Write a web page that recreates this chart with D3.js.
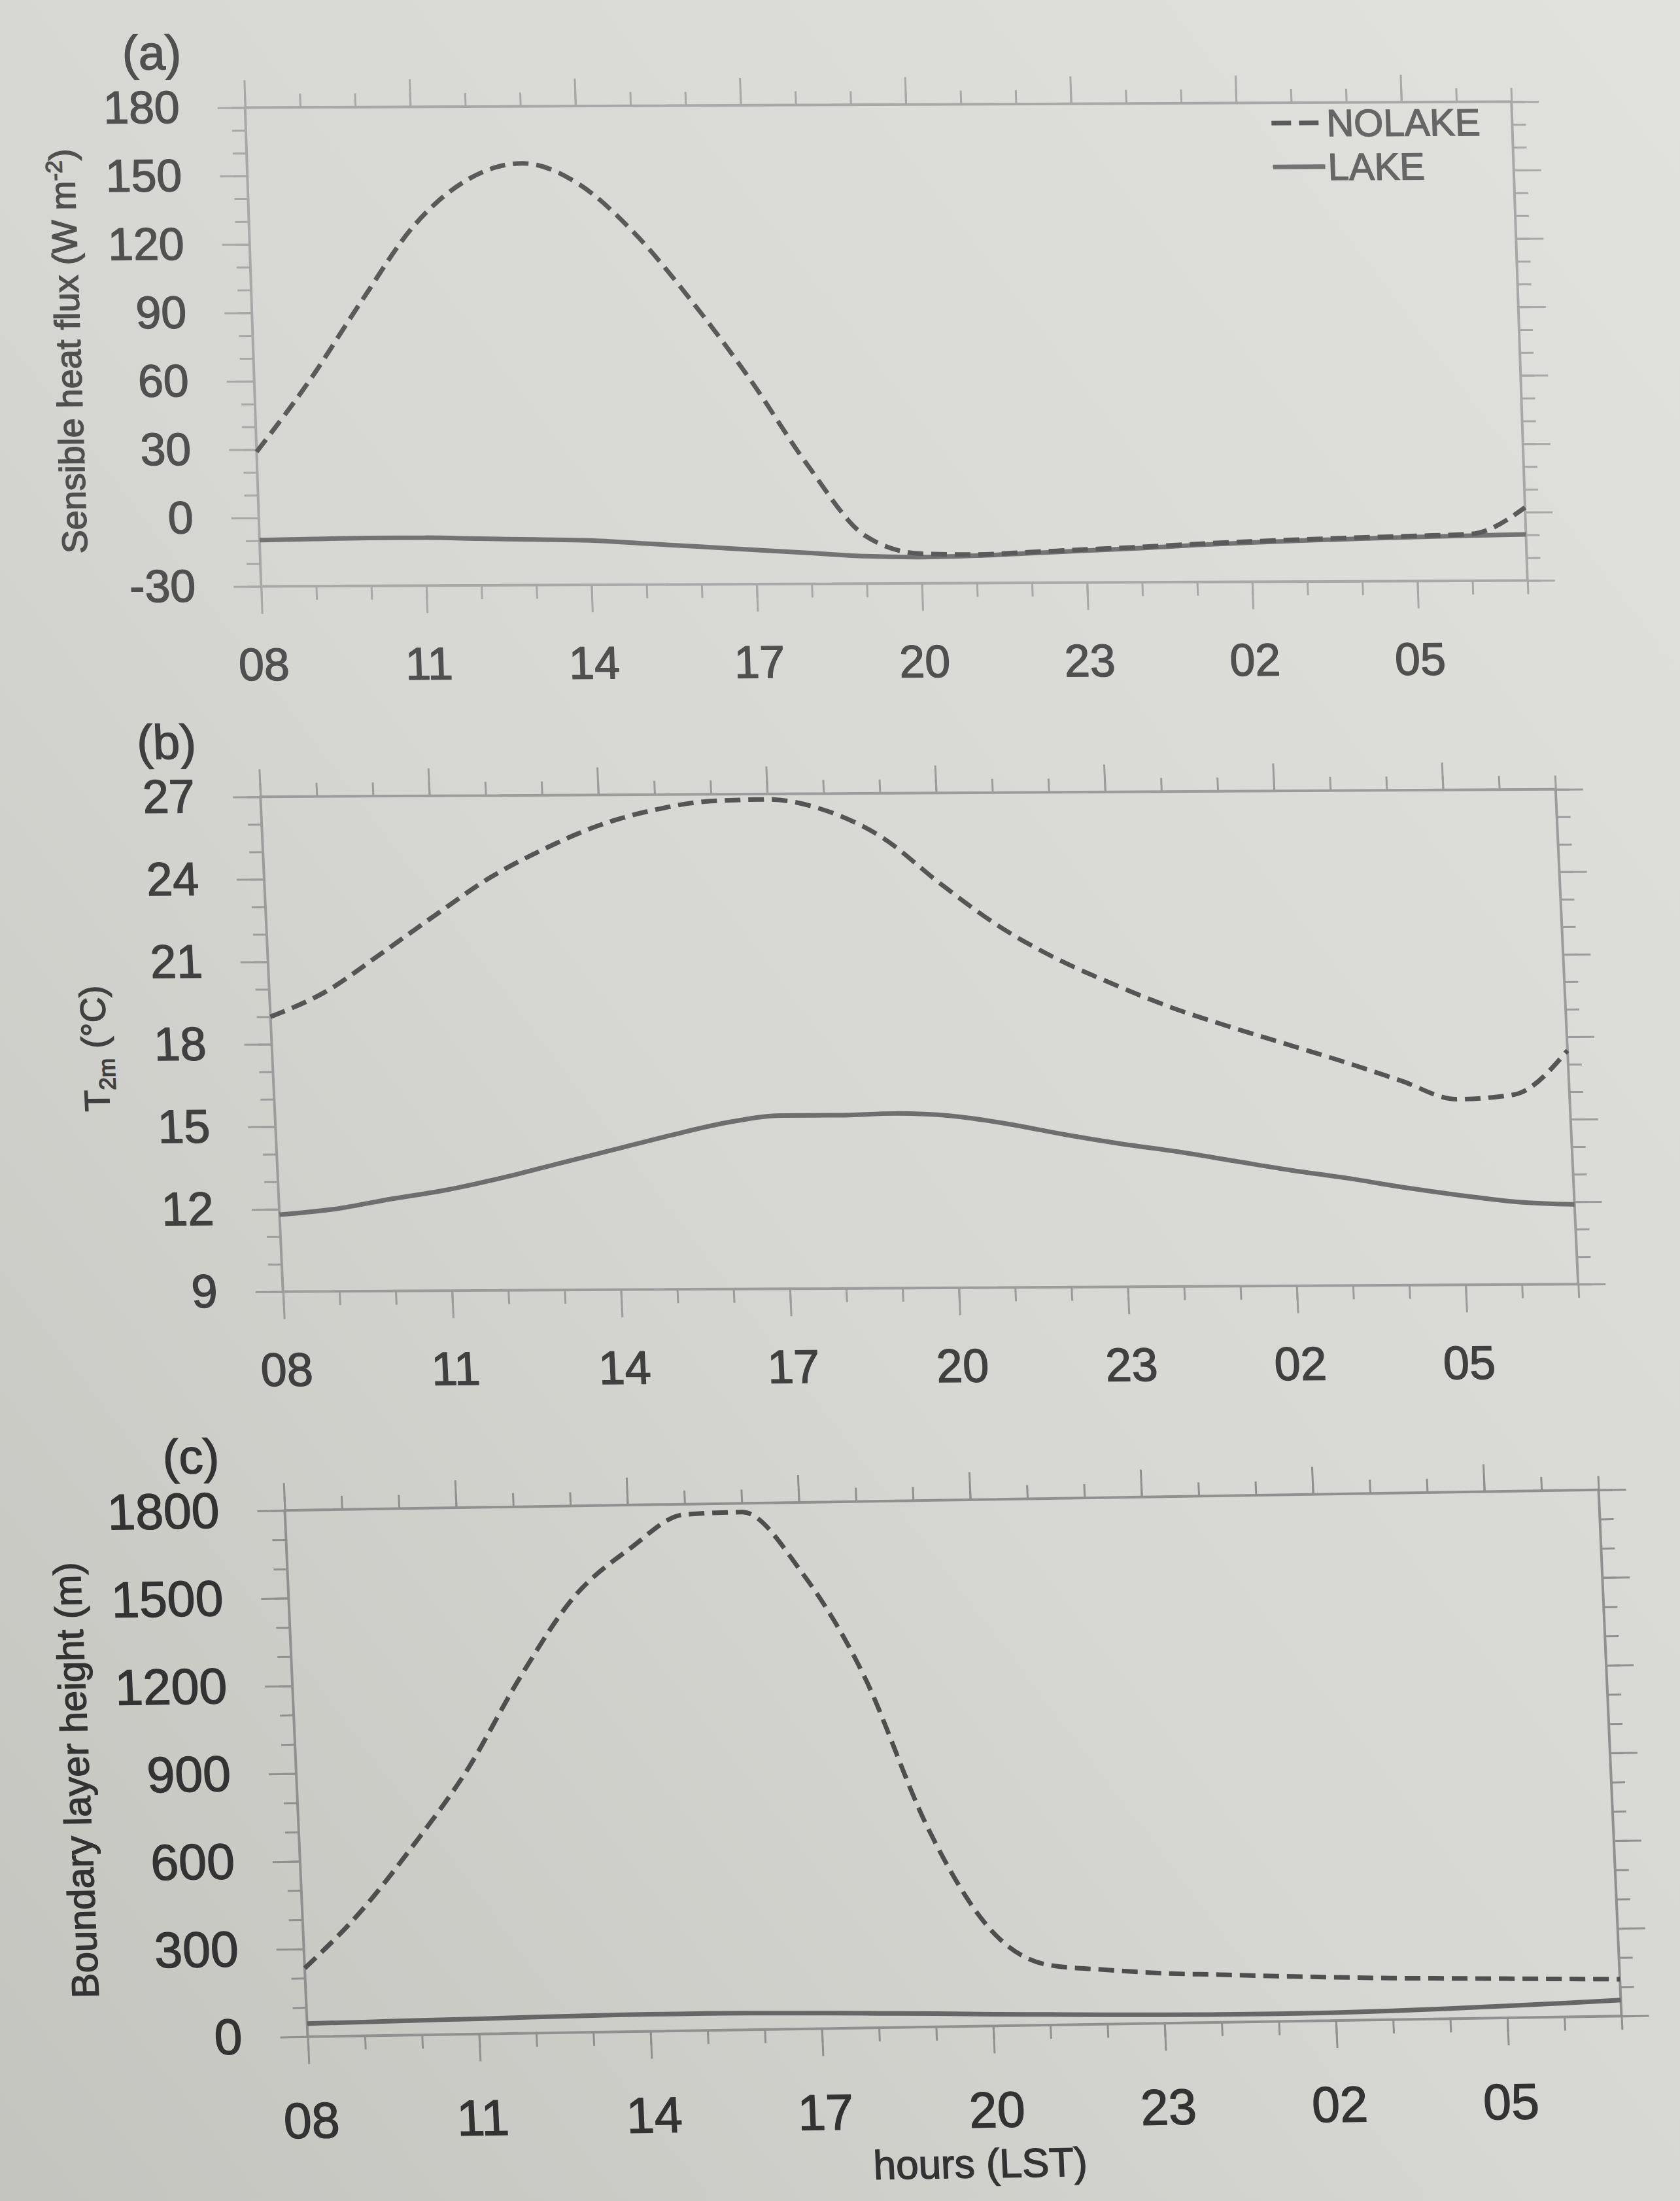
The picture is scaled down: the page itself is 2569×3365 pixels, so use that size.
<!DOCTYPE html>
<html>
<head>
<meta charset="utf-8">
<script src="https://cdn.jsdelivr.net/npm/d3@7"></script>
<style>
  html, body { margin: 0; padding: 0; background: #d6d6d2; }
  svg { display: block; }
  text { font-family: "Liberation Sans", Arial, sans-serif; }
</style>
</head>
<body>
<div id="chart"></div>
<script>
// local standard time, 08 LST through 07 LST next morning
const hours = ["08","09","10","11","12","13","14","15","16","17","18","19",
               "20","21","22","23","00","01","02","03","04","05","06","07"];
const hourLabels = ["08","11","14","17","20","23","02","05"];

// (a) sensible heat flux, W m-2
const fluxNolake = [29, 60, 95, 128, 148, 155, 146, 124, 94, 60, 22, -9,
                    -17, -17.5, -16.5, -15.5, -14.5, -13.3, -12.3, -11.5, -10.8, -10.2, -9.5, 2];
const fluxLake   = [-9.7, -9.3, -9, -9, -9.5, -10, -10.5, -12, -13.5, -15, -16.5, -18,
                    -18.5, -18, -17, -16, -15, -13.8, -12.8, -12, -11.3, -10.7, -10.2, -9.8];
const fluxTicks  = [-30, 0, 30, 60, 90, 120, 150, 180];

// (b) 2 m air temperature, degC
const t2mNolake = [19.0, 19.9, 21.25, 22.65, 24.0, 25.05, 25.9, 26.45, 26.75, 26.8, 26.4, 25.4,
                   23.7, 22.15, 20.95, 20.0, 19.15, 18.45, 17.8, 17.15, 16.45, 15.75, 15.9, 17.5];
const t2mLake   = [11.8, 12.0, 12.35, 12.67, 13.1, 13.6, 14.1, 14.6, 15.05, 15.3, 15.3, 15.35,
                   15.25, 14.95, 14.55, 14.2, 13.9, 13.55, 13.2, 12.9, 12.55, 12.25, 12.0, 11.9];
const t2mTicks  = [9, 12, 15, 18, 21, 24, 27];

// (c) boundary layer height, m
const pblNolake = [234, 420, 650, 905, 1220, 1490, 1650, 1765, 1770, 1560, 1207, 684,
                   336, 206, 186, 171, 163, 155, 148, 142, 138, 134, 130, 126];
const pblLake   = [45, 47, 50, 52, 55, 57, 58, 58, 56, 53, 49, 45,
                   40, 36, 32, 29, 27, 26, 27, 30, 35, 41, 47, 55];
const pblTicks  = [0, 300, 600, 900, 1200, 1500, 1800];

const pageW = 2569, pageH = 3365;

// the page was photographed a little askew, so each panel frame is a quad on the page
const panels = [
  { tag: "(a)", quad: {tl: [381, 163], tr: [2305, 157], bl: [393, 898], br: [2342, 886]},
    nolake: fluxNolake, lake: fluxLake, ticks: fluxTicks, minorStep: 10,
    fontSize: 70, xLabelDy: 119, titleX: -283, titleSize: 54,
    ink: "#505050", frame: "#a8a8a8", dashColor: "#5a5a5a", solidColor: "#737373", legend: true },
  { tag: "(b)", quad: {tl: [404, 1217], tr: [2373, 1208], bl: [427, 1976], br: [2419, 1962]},
    nolake: t2mNolake, lake: t2mLake, ticks: t2mTicks, minorStep: 1,
    fontSize: 72, xLabelDy: 119, titleX: -271, titleSize: 54,
    ink: "#404040", frame: "#9c9c9c", dashColor: "#555", solidColor: "#6e6e6e" },
  { tag: "(c)", quad: {tl: [440, 2305], tr: [2440, 2282], bl: [466, 3118], br: [2484, 3078]},
    nolake: pblNolake, lake: pblLake, ticks: pblTicks, minorStep: 100,
    fontSize: 77, xLabelDy: 128, titleX: -337, titleSize: 58,
    ink: "#333", frame: "#909090", dashColor: "#4e4e4e", solidColor: "#666", xTitle: true }
];

const svg = d3.select("#chart")
  .append("svg")
  .attr("width", pageW)
  .attr("height", pageH);

// paper tone, lighter top right, darker bottom left
const grad = svg.append("defs").append("linearGradient")
  .attr("id", "paper").attr("x1", "100%").attr("y1", "0%").attr("x2", "0%").attr("y2", "100%");
grad.append("stop").attr("offset", "0%").attr("stop-color", "#e1e1de");
grad.append("stop").attr("offset", "55%").attr("stop-color", "#d6d6d2");
grad.append("stop").attr("offset", "100%").attr("stop-color", "#c4c4bf");
svg.append("rect").attr("width", pageW).attr("height", pageH).attr("fill", "url(#paper)");

const dist = (a, b) => Math.hypot(b[0] - a[0], b[1] - a[1]);

// best parallelogram through the four corners -> svg matrix
function fitMatrix(q, W, H) {
  const ux = ((q.tr[0] - q.tl[0]) + (q.br[0] - q.bl[0])) / 2 / W;
  const uy = ((q.tr[1] - q.tl[1]) + (q.br[1] - q.bl[1])) / 2 / W;
  const vx = ((q.bl[0] - q.tl[0]) + (q.br[0] - q.tr[0])) / 2 / H;
  const vy = ((q.bl[1] - q.tl[1]) + (q.br[1] - q.tr[1])) / 2 / H;
  const cx = (q.tl[0] + q.tr[0] + q.bl[0] + q.br[0]) / 4;
  const cy = (q.tl[1] + q.tr[1] + q.bl[1] + q.br[1]) / 4;
  const ex = cx - (ux * W + vx * H) / 2;
  const ey = cy - (uy * W + vy * H) / 2;
  return `matrix(${ux},${uy},${vx},${vy},${ex},${ey})`;
}

const MAJOR = 42, MINOR = 21;

function tidy(sel, p) {
  sel.attr("color", p.frame).attr("font-family", null).attr("font-size", null);
  sel.select(".domain").remove();
  sel.selectAll("line").attr("stroke-width", 3);
}

// printed digits are a bit heavier than the plain regular face
function inked(sel, p, size) {
  sel.attr("fill", p.ink).attr("font-size", size)
     .attr("stroke", p.ink).attr("stroke-width", 1.4);
}

panels.forEach(drawPanel);

function drawPanel(p) {
  const q = p.quad;
  const W = (dist(q.tl, q.tr) + dist(q.bl, q.br)) / 2;
  const H = (dist(q.tl, q.bl) + dist(q.tr, q.br)) / 2;

  const g = svg.append("g").attr("transform", fitMatrix(q, W, H));

  const x = d3.scalePoint().domain(hours).range([0, W]);
  const lo = d3.min(p.ticks), hi = d3.max(p.ticks);
  const y = d3.scaleLinear().domain([lo, hi]).range([H, 0]);
  const minorY = d3.range(lo, hi + p.minorStep / 2, p.minorStep);

  // ticks, all pointing outwards
  g.append("g").attr("transform", `translate(0,${H})`)
    .call(d3.axisBottom(x).tickValues(hours).tickSize(MINOR).tickFormat(""))
    .call(s => tidy(s, p));
  g.append("g").attr("transform", `translate(0,${H})`)
    .call(d3.axisBottom(x).tickValues(hourLabels).tickSize(MAJOR))
    .call(s => tidy(s, p))
    .call(s => s.selectAll("text")
      .attr("y", p.xLabelDy).attr("dy", "0.35em")
      .call(t => inked(t, p, p.fontSize)));

  g.append("g")
    .call(d3.axisTop(x).tickValues(hours).tickSize(MINOR).tickFormat(""))
    .call(s => tidy(s, p));
  g.append("g")
    .call(d3.axisTop(x).tickValues(hourLabels).tickSize(MAJOR).tickFormat(""))
    .call(s => tidy(s, p));

  g.append("g")
    .call(d3.axisLeft(y).tickValues(minorY).tickSize(MINOR).tickFormat(""))
    .call(s => tidy(s, p));
  g.append("g")
    .call(d3.axisLeft(y).tickValues(p.ticks).tickSize(MAJOR).tickPadding(58).tickFormat(d => String(d)))
    .call(s => tidy(s, p))
    .call(s => s.selectAll("text").call(t => inked(t, p, p.fontSize)));

  g.append("g").attr("transform", `translate(${W},0)`)
    .call(d3.axisRight(y).tickValues(minorY).tickSize(MINOR).tickFormat(""))
    .call(s => tidy(s, p));
  g.append("g").attr("transform", `translate(${W},0)`)
    .call(d3.axisRight(y).tickValues(p.ticks).tickSize(MAJOR).tickFormat(""))
    .call(s => tidy(s, p));

  // frame
  g.append("rect")
    .attr("width", W).attr("height", H)
    .attr("fill", "none").attr("stroke", p.frame).attr("stroke-width", 4);

  const line = d3.line()
    .x((d, i) => x(hours[i]))
    .y(d => y(d))
    .curve(d3.curveMonotoneX);

  g.append("path").datum(p.lake)
    .attr("d", line)
    .attr("fill", "none").attr("stroke", p.solidColor).attr("stroke-width", 7);

  g.append("path").datum(p.nolake)
    .attr("d", line)
    .attr("fill", "none").attr("stroke", p.dashColor).attr("stroke-width", 7)
    .attr("stroke-dasharray", "24,12");

  // panel tag
  g.append("text")
    .attr("x", -140).attr("y", -85).attr("dy", "0.35em")
    .attr("text-anchor", "middle")
    .call(t => inked(t, p, 74))
    .text(p.tag);

  // y title
  const title = g.append("text")
    .attr("transform", `translate(${p.titleX},${H / 2 + 5}) rotate(-90)`)
    .attr("dy", "0.35em")
    .attr("text-anchor", "middle")
    .call(t => inked(t, p, p.titleSize));
  if (p.tag === "(a)") {
    title.append("tspan").text("Sensible heat flux (W m");
    title.append("tspan").attr("font-size", p.titleSize * 0.65).attr("dy", "-0.55em").text("-2");
    title.append("tspan").attr("dy", "0.36em").text(")");
  } else if (p.tag === "(b)") {
    title.append("tspan").text("T");
    title.append("tspan").attr("font-size", p.titleSize * 0.65).attr("dy", "0.3em").text("2m");
    title.append("tspan").attr("dy", "-0.2em").text(" (\u00B0C)");
  } else {
    title.text("Boundary layer height (m)");
  }

  if (p.xTitle) {
    g.append("text")
      .attr("x", W / 2 + 15).attr("y", H + 210).attr("dy", "0.35em")
      .attr("text-anchor", "middle")
      .call(t => inked(t, p, 62))
      .text("hours (LST)");
  }

  if (p.legend) {
    const items = [
      {name: "NOLAKE", color: p.dashColor, dash: "30,12"},
      {name: "LAKE", color: p.solidColor, dash: null}
    ];
    const leg = g.append("g").attr("transform", `translate(${W - 368},31)`);
    const row = leg.selectAll("g").data(items).enter().append("g")
      .attr("transform", (d, i) => `translate(0,${i * 67})`);
    row.append("line")
      .attr("x1", 0).attr("x2", 80)
      .attr("stroke", d => d.color).attr("stroke-width", 7)
      .attr("stroke-dasharray", d => d.dash);
    row.append("text")
      .attr("x", 84).attr("dy", "0.35em")
      .attr("font-size", 58).attr("fill", "#666")
      .attr("stroke", "#666").attr("stroke-width", 1.4)
      .text(d => d.name);
  }
}
</script>
</body>
</html>
